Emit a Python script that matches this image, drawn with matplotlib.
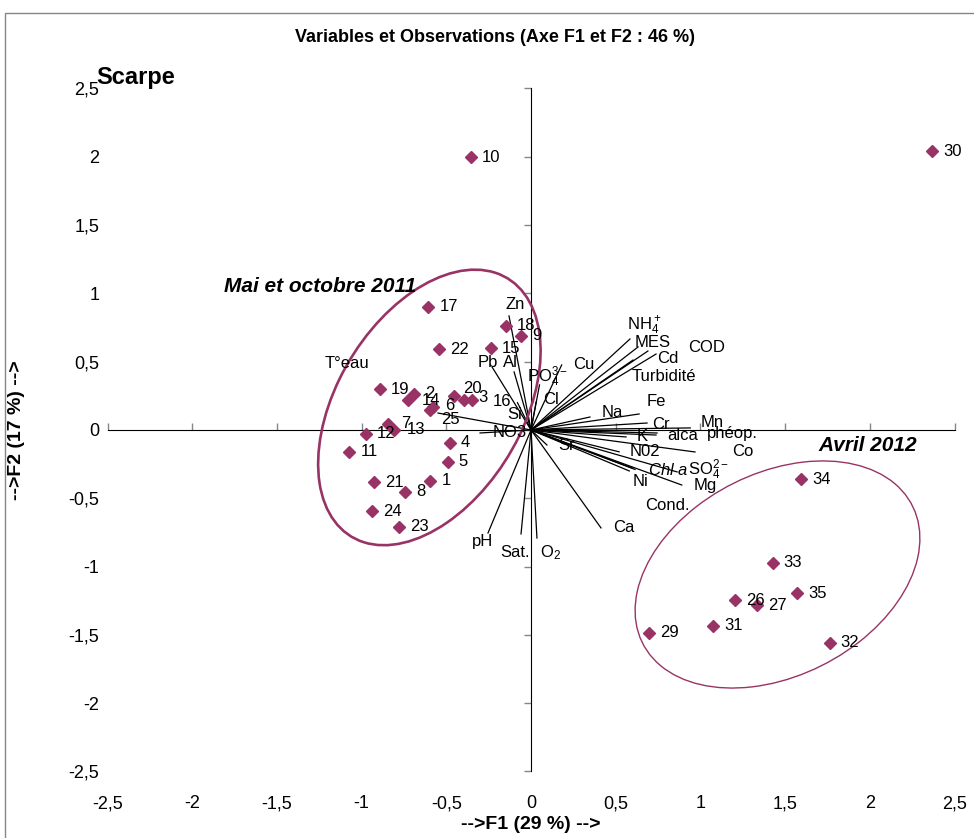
import matplotlib
matplotlib.use("Agg")
import matplotlib.pyplot as plt
from matplotlib.patches import Ellipse, Rectangle

plt.rcParams['font.family'] = ['Liberation Sans', 'DejaVu Sans']
plt.rcParams['mathtext.fontset'] = 'custom'
plt.rcParams['mathtext.rm'] = 'Liberation Sans'
plt.rcParams['mathtext.it'] = 'Liberation Sans:italic'
plt.rcParams['mathtext.bf'] = 'Liberation Sans:bold'

# observations (scores on F1 / F2)
obs_labels = ['1', '2', '3', '4', '5', '6', '7', '8', '9', '10', '11', '12', '13', '14',
              '15', '16', '17', '18', '19', '20', '21', '22', '23', '24', '25',
              '26', '27', '29', '30', '31', '32', '33', '34', '35']
obs_f1 = [-0.594, -0.689, -0.397, -0.478, -0.492, -0.580, -0.842, -0.744, -0.059, -0.355,
          -1.073, -0.974, -0.810, -0.724, -0.236, -0.350, -0.606, -0.149, -0.891, -0.456,
          -0.925, -0.541, -0.777, -0.940, -0.595,
          1.204, 1.336, 0.698, 2.367, 1.076, 1.763, 1.427, 1.594, 1.570]
obs_f2 = [-0.373, 0.266, 0.222, -0.093, -0.234, 0.165, 0.045, -0.452, 0.690, 1.995,
          -0.161, -0.029, 0.000, 0.217, 0.600, 0.217, 0.903, 0.763, 0.298, 0.251,
          -0.381, 0.591, -0.708, -0.595, 0.146,
          -1.247, -1.283, -1.484, 2.040, -1.435, -1.557, -0.971, -0.361, -1.196]

# variables (loadings on F1 / F2)
var_labels = ['T°eau', 'Zn', 'Pb', 'Al', r'PO$_4^{3-}$', 'Cu', 'Cl', 'Si', 'NO3', 'Sr',
              r'NH$_4^+$', 'MES', 'Cd', 'Turbidité', 'COD', 'Fe', 'Na', 'Cr', 'Mn',
              'alca', 'phéop.', 'K', 'Co', 'N02', r'$\it{Chl\ a}$', r'SO$_4^{2-}$', 'Ni',
              'Mg', 'Cond.', 'Ca', 'pH', 'Sat.', r'O$_2$']
var_f1 = [-0.549, -0.130, -0.230, -0.100, 0.050, 0.181, 0.030, -0.080, -0.301, 0.094,
          0.584, 0.632, 0.738, 0.602, 0.690, 0.638, 0.348, 0.685, 0.940,
          0.738, 0.744, 0.561, 0.968, 0.520, 0.614, 0.862, 0.596,
          0.890, 0.580, 0.413, -0.254, -0.059, 0.035]
var_f2 = [0.124, 0.835, 0.461, 0.425, 0.330, 0.476, 0.205, 0.200, -0.022, -0.110,
          0.666, 0.608, 0.556, 0.512, 0.578, 0.117, 0.095, 0.051, 0.015,
          -0.037, -0.022, -0.051, -0.161, -0.160, -0.289, -0.307, -0.278,
          -0.403, -0.300, -0.717, -0.754, -0.761, -0.791]
# label offsets in pixels (layout only)
var_offsets = [(-113, 50), (-4, 11), (-14, 5), (-11, 9), (-12, 8), (11, 0), (7, 2), (-10, -12),
               (13, 0), (11, 0), (-3, 13), (-3, 4), (1, -4), (-1, -16), (40, 4), (8, 12),
               (12, 5), (5, -1), (10, 5), (11, 0), (50, -1), (11, 0), (37, 0), (11, 0),
               (13, -1), (11, 2), (1, -14), (12, 0), (16, -35), (12, 0), (-16, -9),
               (-21, -19), (3, -15)]
obs_offset = (11, 0)
obs_offset_special = {'20': (9, 7), '3': (15, 2), '16': (21, -1), '6': (12, 2),
                      '25': (11, -9), '7': (13, 0), '13': (13, 0), '14': (13, 0)}

ticks = [-2.5, -2, -1.5, -1, -0.5, 0, 0.5, 1, 1.5, 2, 2.5]
tick_labels = ['-2,5', '-2', '-1,5', '-1', '-0,5', '0', '0,5', '1', '1,5', '2', '2,5']

col = '#993366'
grey = '#868686'

fig = plt.figure(figsize=(9.74, 8.38), dpi=100)
ax = fig.add_axes([0.1104, 0.0794, 0.8696, 0.815])
ax.set_xlim(-2.5, 2.5)
ax.set_ylim(-2.5, 2.5)
for s in ax.spines.values():
    s.set_visible(False)
ax.set_xticks(ticks)
ax.set_xticklabels(tick_labels)
ax.set_yticks(ticks)
ax.set_yticklabels(tick_labels)
ax.tick_params(length=0, labelsize=13)
ax.tick_params(axis='x', pad=17)
ax.tick_params(axis='y', pad=6)

# axes crossing at origin with tick marks
secx = ax.secondary_xaxis(0.5)
secx.set_xticks(ticks)
secx.xaxis.set_ticklabels([])
secx.tick_params(direction='out', length=5, color=grey, width=1)
secx.spines['bottom'].set_color(grey)
secx.spines['bottom'].set_linewidth(1.2)
secy = ax.secondary_yaxis(0.5)
secy.set_yticks(ticks)
secy.yaxis.set_ticklabels([])
secy.tick_params(direction='in', length=5, color=grey, width=1)
secy.spines['left'].set_color(grey)
secy.spines['left'].set_linewidth(1.2)

# variable vectors
for lab, x, y, off in zip(var_labels, var_f1, var_f2, var_offsets):
    ax.plot([0, x], [0, y], color='black', lw=0.9, zorder=2)
    ax.annotate(lab, (x, y), xytext=off, textcoords='offset pixels',
                ha='left', va='center', fontsize=12, zorder=4)

# observations
ax.plot(obs_f1, obs_f2, linestyle='none', marker='D', markersize=6.5,
        color=col, zorder=3)
for lab, x, y in zip(obs_labels, obs_f1, obs_f2):
    ax.annotate(lab, (x, y), xytext=obs_offset_special.get(lab, obs_offset),
                textcoords='offset pixels', ha='left', va='center',
                fontsize=12, zorder=4)

# groups
ax.add_patch(Ellipse((-0.60, 0.165), 2.12, 1.14, angle=68.6, fill=False,
                     edgecolor=col, lw=1.9, zorder=3))
ax.add_patch(Ellipse((1.455, -1.058), 1.92, 1.38, angle=44, fill=False,
                     edgecolor=col, lw=1.0, zorder=3))
ax.text(-1.246, 1.054, 'Mai et octobre 2011', fontsize=15, fontweight='bold',
        fontstyle='italic', ha='center', va='center')
ax.text(1.99, -0.11, 'Avril 2012', fontsize=15, fontweight='bold',
        fontstyle='italic', ha='center', va='center')

ax.set_xlabel('-->F1 (29 %) -->', fontsize=14, fontweight='bold')
ax.xaxis.set_label_coords(0.5, -0.065)
ax.set_ylabel('-->F2 (17 %) -->', fontsize=14, fontweight='bold')
ax.yaxis.set_label_coords(-0.098, 0.5)

fig.text(0.508, 0.9547, 'Variables et Observations (Axe F1 et F2 : 46 %)',
         fontsize=13, fontweight='bold', ha='center', va='center')
fig.text(96 / 974, 0.908, 'Scarpe', fontsize=17, fontweight='bold',
         ha='left', va='center')

fig.patches.append(Rectangle((5 / 974, -0.1), 1.2, 0.1 + 825 / 838, fill=False,
                             edgecolor=grey, lw=1, transform=fig.transFigure))

fig.savefig('out.png', dpi=100)
